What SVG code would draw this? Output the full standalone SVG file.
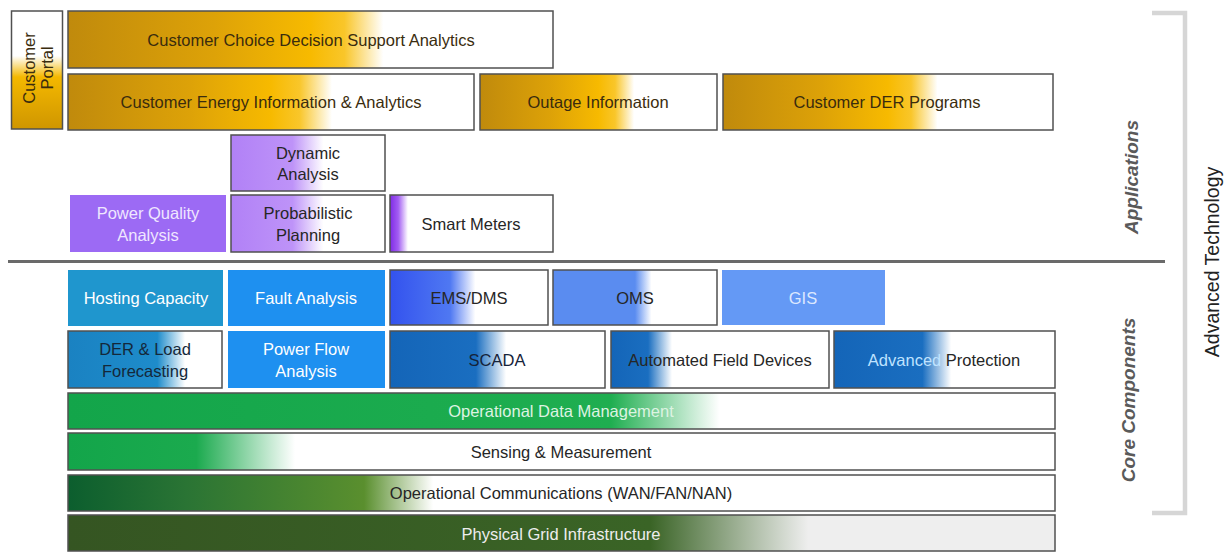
<svg xmlns="http://www.w3.org/2000/svg" width="1227" height="557" viewBox="0 0 1227 557">
<defs>
<linearGradient id="gGold" x1="0" y1="0" x2="1" y2="0">
<stop offset="0" stop-color="#C08A0C"/>
<stop offset="0.3" stop-color="#DDA208"/>
<stop offset="0.5" stop-color="#F7BA00"/>
<stop offset="0.57" stop-color="#F9C62A"/>
<stop offset="0.65" stop-color="#FFFFFF"/>
</linearGradient>
<linearGradient id="gPortal" x1="0" y1="0" x2="0" y2="1">
<stop offset="0" stop-color="#FFFFFF"/>
<stop offset="0.38" stop-color="#FFFFFF"/>
<stop offset="0.56" stop-color="#F4B800"/>
<stop offset="1" stop-color="#CF9600"/>
</linearGradient>
<linearGradient id="gPurple" x1="0" y1="0" x2="1" y2="0">
<stop offset="0" stop-color="#B181F6"/>
<stop offset="0.4" stop-color="#BE93F8"/>
<stop offset="0.6" stop-color="#FFFFFF"/>
</linearGradient>
<linearGradient id="gSmart" x1="0" y1="0" x2="1" y2="0">
<stop offset="0" stop-color="#7F2BE6"/>
<stop offset="0.05" stop-color="#A25CF2"/>
<stop offset="0.11" stop-color="#FFFFFF"/>
</linearGradient>
<linearGradient id="gEms" x1="0" y1="0" x2="1" y2="0">
<stop offset="0" stop-color="#3352EE"/>
<stop offset="0.38" stop-color="#4F78F2"/>
<stop offset="0.54" stop-color="#FFFFFF"/>
</linearGradient>
<linearGradient id="gOms" x1="0" y1="0" x2="1" y2="0">
<stop offset="0" stop-color="#5A8CF0"/>
<stop offset="0.5" stop-color="#5A8CF0"/>
<stop offset="0.6" stop-color="#FFFFFF"/>
</linearGradient>
<linearGradient id="gDer" x1="0" y1="0" x2="1" y2="0">
<stop offset="0" stop-color="#1A82C2"/>
<stop offset="0.58" stop-color="#1E8CCB"/>
<stop offset="0.76" stop-color="#FFFFFF"/>
</linearGradient>
<linearGradient id="gScada" x1="0" y1="0" x2="1" y2="0">
<stop offset="0" stop-color="#1465B8"/>
<stop offset="0.4" stop-color="#1A6EC0"/>
<stop offset="0.54" stop-color="#FFFFFF"/>
</linearGradient>
<linearGradient id="gAfd" x1="0" y1="0" x2="1" y2="0">
<stop offset="0" stop-color="#1465B8"/>
<stop offset="0.17" stop-color="#1A6EC0"/>
<stop offset="0.28" stop-color="#FFFFFF"/>
</linearGradient>
<linearGradient id="gAp" x1="0" y1="0" x2="1" y2="0">
<stop offset="0" stop-color="#1465B8"/>
<stop offset="0.4" stop-color="#1A6EC0"/>
<stop offset="0.53" stop-color="#FFFFFF"/>
</linearGradient>
<linearGradient id="gOdm" x1="0" y1="0" x2="1" y2="0">
<stop offset="0" stop-color="#13A54A"/>
<stop offset="0.55" stop-color="#1FAE50"/>
<stop offset="0.66" stop-color="#FFFFFF"/>
</linearGradient>
<linearGradient id="gSense" x1="0" y1="0" x2="1" y2="0">
<stop offset="0" stop-color="#13A54A"/>
<stop offset="0.13" stop-color="#1BAA4E"/>
<stop offset="0.23" stop-color="#FFFFFF"/>
</linearGradient>
<linearGradient id="gComm" x1="0" y1="0" x2="1" y2="0">
<stop offset="0" stop-color="#0C5E2E"/>
<stop offset="0.12" stop-color="#2A7434"/>
<stop offset="0.30" stop-color="#5A8F2E"/>
<stop offset="0.37" stop-color="#FFFFFF"/>
</linearGradient>
<linearGradient id="gGrid" x1="0" y1="0" x2="1" y2="0">
<stop offset="0" stop-color="#355522"/>
<stop offset="0.59" stop-color="#3A6426"/>
<stop offset="0.75" stop-color="#EEEEEE"/>
<stop offset="1" stop-color="#EEEEEE"/>
</linearGradient>
</defs>
<style>
text{font-family:"Liberation Sans",Arial,sans-serif;font-size:16.5px;text-anchor:middle;dominant-baseline:central;fill:#262626}
.box{stroke:#505050;stroke-width:1.5}
.flat{stroke:none}
.gt{fill:#3A2C0E}
.wt{fill:#FFFFFF}
.side{font-weight:bold;font-style:italic;fill:#5A5A5A;font-size:19px}
</style>
<rect width="1227" height="557" fill="#FFFFFF"/>

<g id="customer-portal">
<rect class="box" x="11.5" y="11" width="51" height="118" fill="url(#gPortal)"/>
<text class="gt" transform="translate(29,68) rotate(-90)" font-size="19">Customer</text>
<text class="gt" transform="translate(47,68) rotate(-90)" font-size="19">Portal</text>
</g>
<g id="ccdsa">
<rect class="box" x="68" y="11" width="485" height="57" fill="url(#gGold)"/>
<text class="gt" x="311" y="40">Customer  Choice Decision Support Analytics</text>
</g>
<g id="ceia">
<rect class="box" x="68" y="74" width="406" height="56" fill="url(#gGold)"/>
<text class="gt" x="271" y="102">Customer  Energy Information &amp; Analytics</text>
</g>
<g id="outage">
<rect class="box" x="480" y="74" width="237" height="56" fill="url(#gGold)"/>
<text class="gt" x="598" y="102">Outage  Information</text>
</g>
<g id="der-programs">
<rect class="box" x="723" y="74" width="330" height="56" fill="url(#gGold)"/>
<text class="gt" x="887" y="102">Customer DER Programs</text>
</g>

<g id="dynamic-analysis">
<rect class="box" x="231" y="135" width="154" height="56" fill="url(#gPurple)"/>
<text x="308" y="153">Dynamic</text>
<text x="308" y="174">Analysis</text>
</g>
<g id="power-quality">
<rect class="flat" x="70" y="195" width="156" height="57" fill="#9C6AF4"/>
<text x="148" y="213" style="fill:#EFE6FF">Power Quality</text>
<text x="148" y="235" style="fill:#EFE6FF">Analysis</text>
</g>
<g id="probabilistic-planning">
<rect class="box" x="231" y="195" width="154" height="57" fill="url(#gPurple)"/>
<text x="308" y="213">Probabilistic</text>
<text x="308" y="235">Planning</text>
</g>
<g id="smart-meters">
<rect class="box" x="390" y="195" width="163" height="57" fill="url(#gSmart)"/>
<text x="471" y="224">Smart Meters</text>
</g>

<g id="separator">
<line x1="8" y1="261.5" x2="1165" y2="261.5" stroke="#6A6A6A" stroke-width="3"/>
</g>

<g id="hosting-capacity">
<rect class="flat" x="68" y="270" width="155" height="56" fill="#1F96CE"/>
<text class="wt" x="146" y="298">Hosting  Capacity</text>
</g>
<g id="fault-analysis">
<rect class="flat" x="228" y="270" width="157" height="56" fill="#1E90F0"/>
<text class="wt" x="306" y="298">Fault Analysis</text>
</g>
<g id="ems-dms">
<rect class="box" x="390" y="270" width="158" height="55" fill="url(#gEms)"/>
<text x="469" y="298">EMS/DMS</text>
</g>
<g id="oms">
<rect class="box" x="553" y="270" width="164" height="55" fill="url(#gOms)"/>
<text x="635" y="298">OMS</text>
</g>
<g id="gis">
<rect class="flat" x="722" y="270" width="163" height="55" fill="#6499F5"/>
<text x="803" y="298" style="fill:#DCE8FF">GIS</text>
</g>

<g id="der-load-forecasting">
<rect class="box" x="68" y="331" width="154" height="57" fill="url(#gDer)"/>
<text x="145" y="349" style="fill:#14283A">DER &amp; Load</text>
<text x="145" y="371" style="fill:#14283A">Forecasting</text>
</g>
<g id="power-flow">
<rect class="flat" x="228" y="331" width="157" height="57" fill="#1E90F0"/>
<text class="wt" x="306" y="349">Power  Flow</text>
<text class="wt" x="306" y="371">Analysis</text>
</g>
<g id="scada">
<rect class="box" x="390" y="331" width="215" height="57" fill="url(#gScada)"/>
<text x="497" y="360" style="fill:#15233A">SCADA</text>
</g>
<g id="automated-field-devices">
<rect class="box" x="611" y="331" width="218" height="57" fill="url(#gAfd)"/>
<text x="720" y="360">Automated  Field Devices</text>
</g>
<g id="advanced-protection">
<rect class="box" x="834" y="331" width="221" height="57" fill="url(#gAp)"/>
<text x="944" y="360"><tspan style="fill:#BFE3FF">Advanced</tspan> Protection</text>
</g>

<g id="operational-data-management">
<rect class="box" x="68" y="393" width="987" height="36" fill="url(#gOdm)"/>
<text x="561" y="411" style="fill:#DDF3E2">Operational  Data  Management</text>
</g>
<g id="sensing-measurement">
<rect class="box" x="68" y="433" width="987" height="37" fill="url(#gSense)"/>
<text x="561" y="452">Sensing &amp; Measurement</text>
</g>
<g id="operational-communications">
<rect class="box" x="68" y="475" width="987" height="36" fill="url(#gComm)"/>
<text x="561" y="493">Operational  Communications  (WAN/FAN/NAN)</text>
</g>
<g id="physical-grid">
<rect class="box" x="68" y="515" width="987" height="36" fill="url(#gGrid)"/>
<text x="561" y="534" style="fill:#EDEDED">Physical Grid Infrastructure</text>
</g>

<g id="labels">
<text class="side" transform="translate(1131,177) rotate(-90)">Applications</text>
<text class="side" transform="translate(1128,400) rotate(-90)">Core Components</text>
<path d="M1152,13 H1185 V513 H1152" fill="none" stroke="#D6D6D6" stroke-width="4.5"/>
<text transform="translate(1212,262) rotate(-90)" style="font-size:19.5px;fill:#222">Advanced  Technology</text>
</g>
</svg>
